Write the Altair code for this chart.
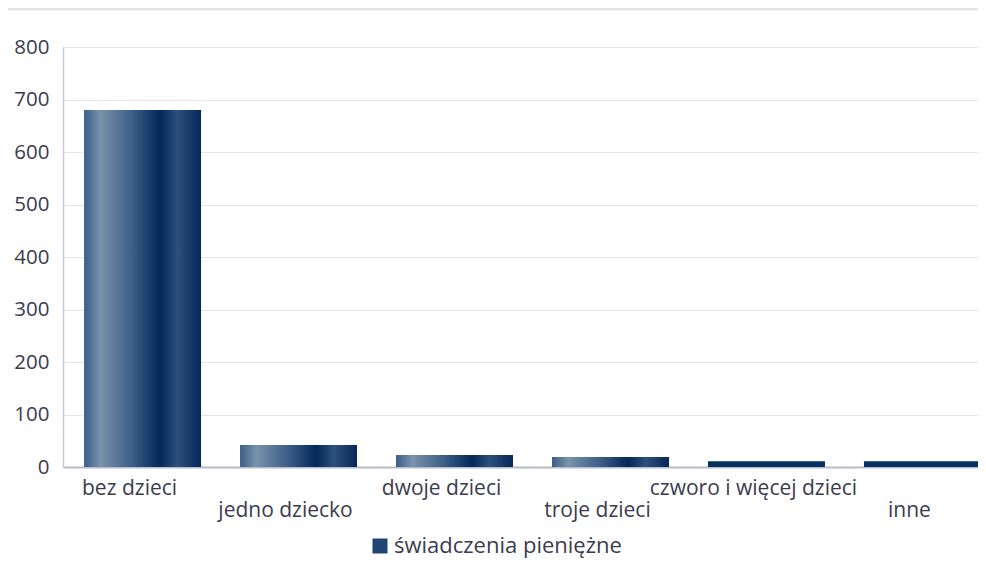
import altair as alt
import pandas as pd

categories = ["bez dzieci", "jedno dziecko", "dwoje dzieci", "troje dzieci",
              "czworo i więcej dzieci", "inne"]
values = [680, 42, 23, 19, 11, 11]
series_name = "świadczenia pieniężne"
solid_fill = [False, False, False, False, True, True]
second_row = ["jedno dziecko", "troje dzieci", "inne"]
y_ticks = [0, 100, 200, 300, 400, 500, 600, 700, 800]

df = pd.DataFrame({
    "kategoria": categories,
    "wartosc": values,
    "seria": [series_name] * len(categories),
    "solid": solid_fill,
})

FONT = "Open Sans"
TXT = "#3b3b50"

grad = alt.LinearGradient(
    gradient="linear", x1=0, y1=0, x2=1, y2=0,
    stops=[
        alt.GradientStop(offset=0.0, color="#3a5e88"),
        alt.GradientStop(offset=0.14, color="#7a92ac"),
        alt.GradientStop(offset=0.40, color="#3e6089"),
        alt.GradientStop(offset=0.65, color="#03295a"),
        alt.GradientStop(offset=0.80, color="#2d5079"),
        alt.GradientStop(offset=1.0, color="#06275a"),
    ],
)

expr_second = "indexof(" + str(second_row).replace('"', "'") + ", datum.value) >= 0 ? ['', datum.label] : datum.label"

x_enc = alt.X(
    "kategoria:N", sort=categories,
    scale=alt.Scale(range=[0, 939], paddingInner=0.25, paddingOuter=0.135),
    axis=alt.Axis(
        title=None, labelAngle=0, ticks=False, labelExpr=expr_second,
        labelFont=FONT, labelFontSize=21, labelColor=TXT, labelPadding=10,
        labelLineHeight=22, labelOffset=-13, labelBaseline="top",
        labelLimit=400,
        domainColor="#b9bacd", domainWidth=2, grid=False,
    ),
)
y_enc = alt.Y(
    "wartosc:Q",
    scale=alt.Scale(domain=[0, 800], nice=False),
    axis=alt.Axis(
        title=None, values=y_ticks, ticks=False, labelPadding=14,
        labelFont=FONT, labelFontSize=20.5, labelColor=TXT,
        domainColor="#c8c8dc", domainWidth=1.5,
        gridColor="#e6e6ee", gridWidth=1,
    ),
)

base = alt.Chart(df)

bars_grad = base.transform_filter("!datum.solid").mark_bar(color=grad).encode(x=x_enc, y=y_enc)
bars_solid = base.transform_filter("datum.solid").mark_bar(color="#06315f").encode(x=x_enc, y=y_enc)

legend_layer = base.mark_square(opacity=0).encode(
    x=x_enc, y=y_enc,
    color=alt.Color(
        "seria:N",
        scale=alt.Scale(range=["#1e4574"]),
        legend=alt.Legend(
            title=None, orient="none", legendX=306, legendY=488,
            symbolType="square", symbolSize=225, symbolOpacity=1,
            symbolStrokeWidth=0, labelLimit=400,
            labelFont=FONT, labelFontSize=22, labelColor=TXT, labelOffset=3,
        ),
    ),
)

top_rule = alt.Chart(pd.DataFrame({"a": [0]})).mark_rule(
    color="#e4e4e8", strokeWidth=3
).encode(y=alt.value(-38), x=alt.value(-59), x2=alt.value(940))

chart = alt.layer(top_rule, bars_grad, bars_solid, legend_layer).properties(
    width=915, height=420,
    padding={"left": 55, "top": 39, "right": 0, "bottom": 94},
    autosize=alt.AutoSizeParams(type="none"),
).configure_view(stroke=None).configure(font=FONT)

chart.save("out.html", embed_options={"renderer": "svg", "actions": False})
